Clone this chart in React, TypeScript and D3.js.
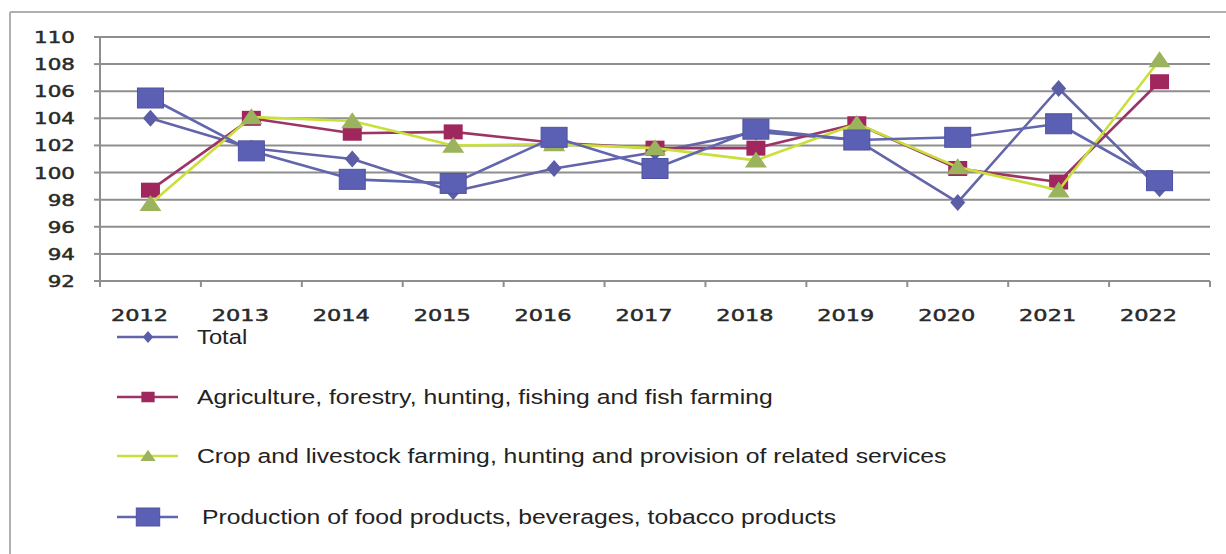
import React from "react";
import * as d3 from "d3";

const years = ["2012","2013","2014","2015","2016","2017","2018","2019","2020","2021","2022"];
const yTicks = [92,94,96,98,100,102,104,106,108,110];
const total = [104.0,101.8,101.0,98.6,100.3,101.5,103.0,102.4,97.8,106.2,98.8];
const agriculture = [98.7,104.0,102.9,103.0,102.2,101.8,101.8,103.6,100.3,99.3,106.7];
const crop = [97.7,104.1,103.8,102.0,102.1,101.8,100.9,103.6,100.4,98.7,108.3];
const production = [105.5,101.6,99.5,99.2,102.6,100.3,103.2,102.4,102.6,103.6,99.4];
const seriesNames = [
  "Total",
  "Agriculture, forestry, hunting, fishing and fish farming",
  "Crop and livestock farming, hunting and provision of related services",
  "Production of food products, beverages, tobacco products",
];

const W = 1226, H = 554;
const left = 100, right = 1210, top = 37, bottom = 281;

export default function App() {
  const x = d3.scaleBand<string>().domain(years).range([left, right]);
  const y = d3.scaleLinear().domain([92, 110]).range([bottom, top]);
  const cx = (i: number) => (x(years[i]) as number) + x.bandwidth() / 2;
  const line = d3.line<number>().x((_, i) => cx(i)).y((v) => y(v));

  const series = [
    { name: seriesNames[0], data: total, line: "#6365a8", fill: "#5b5ea6", marker: "diamond" },
    { name: seriesNames[1], data: agriculture, line: "#9c3565", fill: "#a0275d", marker: "square" },
    { name: seriesNames[2], data: crop, line: "#c9df3a", fill: "#9bb35c", marker: "triangle" },
    { name: seriesNames[3], data: production, line: "#6166ae", fill: "#5c60b4", marker: "bigsquare" },
  ];

  const marker = (type: string, px: number, py: number, fill: string, key: any, scale = 1) => {
    if (type === "diamond") {
      const w = 7.5 * scale, h = 8.5 * scale;
      return <path key={key} d={`M${px},${py - h}L${px + w},${py}L${px},${py + h}L${px - w},${py}Z`} fill={fill} />;
    }
    if (type === "square") {
      const w = 19 * scale, h = 15 * scale;
      return <rect key={key} x={px - w / 2} y={py - h / 2} width={w} height={h} fill={fill} />;
    }
    if (type === "bigsquare") {
      const w = 26 * scale, h = 20 * scale;
      return <rect key={key} x={px - w / 2} y={py - h / 2} width={w} height={h} fill={fill} stroke="#4e52a0" strokeWidth={1} />;
    }
    const w = 11 * scale, h = 16 * scale;
    return <path key={key} d={`M${px},${py - h * 0.55}L${px + w},${py + h * 0.45}L${px - w},${py + h * 0.45}Z`} fill={fill} />;
  };

  const legendY = [337, 397, 456, 517];
  const legendScale = [1.22, 1.27, 1.27, 1.27];

  return (
    <svg width={W} height={H} style={{ position: "absolute", left: 0, top: 0, background: "#fff" }}>
      <line x1={10} y1={12} x2={W} y2={12} stroke="#b0b0b0" strokeWidth={2} />
      <line x1={10} y1={12} x2={10} y2={H} stroke="#b0b0b0" strokeWidth={2} />
      {yTicks.map((t) => (
        <g key={t}>
          <line x1={left} x2={right} y1={y(t)} y2={y(t)} stroke="#8e8e8e" strokeWidth={2} />
          <line x1={left - 6} x2={left} y1={y(t)} y2={y(t)} stroke="#8e8e8e" strokeWidth={2} />
          <text transform={`translate(75,${y(t) + 6}) scale(1.3,1)`} textAnchor="end"
            fontFamily="DejaVu Sans" fontSize={16.5} fill="#2a2a2a" stroke="#2a2a2a" strokeWidth={0.5}>{t}</text>
        </g>
      ))}
      <line x1={left} x2={left} y1={top} y2={bottom} stroke="#8e8e8e" strokeWidth={2} />
      {years.map((yr) => (
        <line key={"t" + yr} x1={x(yr) as number} x2={x(yr) as number} y1={bottom} y2={bottom + 6} stroke="#8e8e8e" strokeWidth={2} />
      ))}
      <line x1={right} x2={right} y1={bottom} y2={bottom + 6} stroke="#8e8e8e" strokeWidth={2} />
      {years.map((yr, i) => (
        <text key={yr} transform={`translate(${cx(i) - 11},${bottom + 40}) scale(1.36,1)`} textAnchor="middle"
          fontFamily="DejaVu Sans" fontSize={16.5} fill="#2a2a2a" stroke="#2a2a2a" strokeWidth={0.5}>{yr}</text>
      ))}
      {series.map((s) => (
        <g key={s.name}>
          <path d={line(s.data) as string} fill="none" stroke={s.line} strokeWidth={2.6} strokeLinejoin="round" />
          {s.data.map((v, i) => marker(s.marker, cx(i), y(v), s.fill, i))}
        </g>
      ))}
      {series.map((s, si) => (
        <g key={"l" + si}>
          <line x1={117} x2={178} y1={legendY[si]} y2={legendY[si]} stroke={s.line} strokeWidth={2.6} />
          {marker(s.marker, 148, legendY[si], s.fill, "m", s.marker === "bigsquare" ? 0.9 : 0.7)}
          <text transform={`translate(${si === 3 ? 202 : 197},${legendY[si] + 7}) scale(${legendScale[si]},1)`}
            fontFamily="Liberation Sans, Arial" fontSize={19.5} fill="#222">{s.name}</text>
        </g>
      ))}
    </svg>
  );
}
